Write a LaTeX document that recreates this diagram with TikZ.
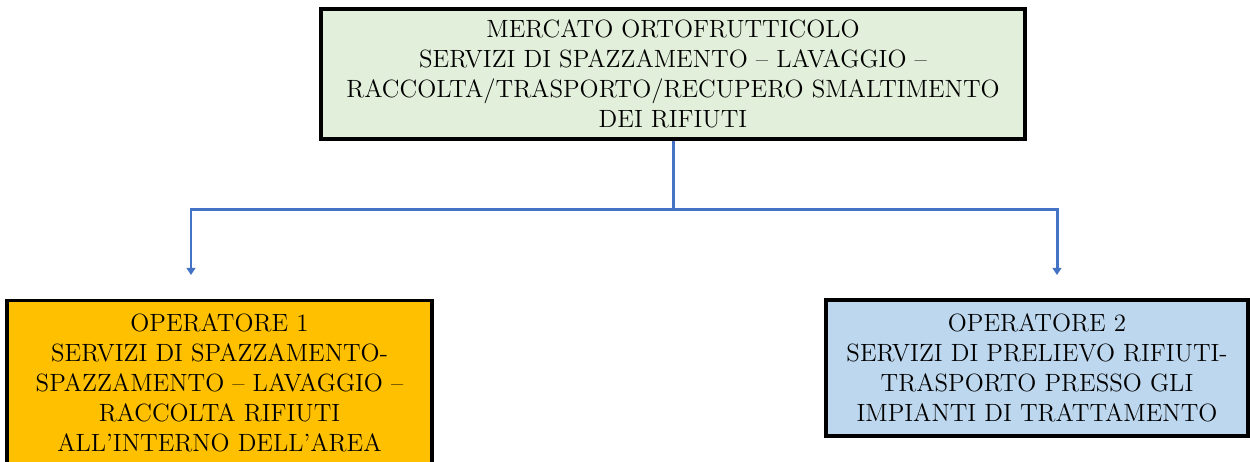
\documentclass[tikz,border=0pt]{standalone}
\usepackage{fontspec}
\usetikzlibrary{arrows.meta}
\definecolor{topgreen}{HTML}{E2EFDA}
\definecolor{oporange}{HTML}{FFC000}
\definecolor{opblue}{HTML}{BDD7EE}
\definecolor{linkblue}{HTML}{4472C4}
\begin{document}
\begin{tikzpicture}[x=0.02cm, y=-0.02cm,
  box/.style={draw=black, line width=2.2pt, align=center, inner sep=0pt,
    font=\fontsize{14.2}{17}\selectfont},
  link/.style={draw=linkblue, line width=1.7pt},
  tip/.style={-{Triangle[length=4pt,width=5pt]}}]
\useasboundingbox (0,0) rectangle (1250,461);
\clip (0,0) rectangle (1250,461);
\node[box, fill=topgreen, minimum width=14.08cm, minimum height=2.6cm] (MKT) at (673,74)
  {MERCATO ORTOFRUTTICOLO\\SERVIZI DI SPAZZAMENTO – LAVAGGIO –\\RACCOLTA/TRASPORTO/RECUPERO SMALTIMENTO\\DEI RIFIUTI};
\node[box, fill=oporange, minimum width=8.5cm, minimum height=3.3cm] (OP1) at (219.5,383)
  {OPERATORE 1\\SERVIZI DI SPAZZAMENTO-\\SPAZZAMENTO – LAVAGGIO –\\RACCOLTA RIFIUTI\\ALL’INTERNO DELL’AREA};
\node[box, fill=opblue, minimum width=8.44cm, minimum height=2.72cm] (OP2) at (1037,368)
  {OPERATORE 2\\SERVIZI DI PRELIEVO RIFIUTI-\\TRASPORTO PRESSO GLI\\IMPIANTI DI TRATTAMENTO};

\coordinate (split) at (673,209);
\coordinate (end1) at (191,275);
\coordinate (end2) at (1057,275);
\draw[link] (MKT.south) -- (split);
\draw[link, tip] (split) -| (end1);
\draw[link, tip] (split) -| (end2);
\end{tikzpicture}
\end{document}
